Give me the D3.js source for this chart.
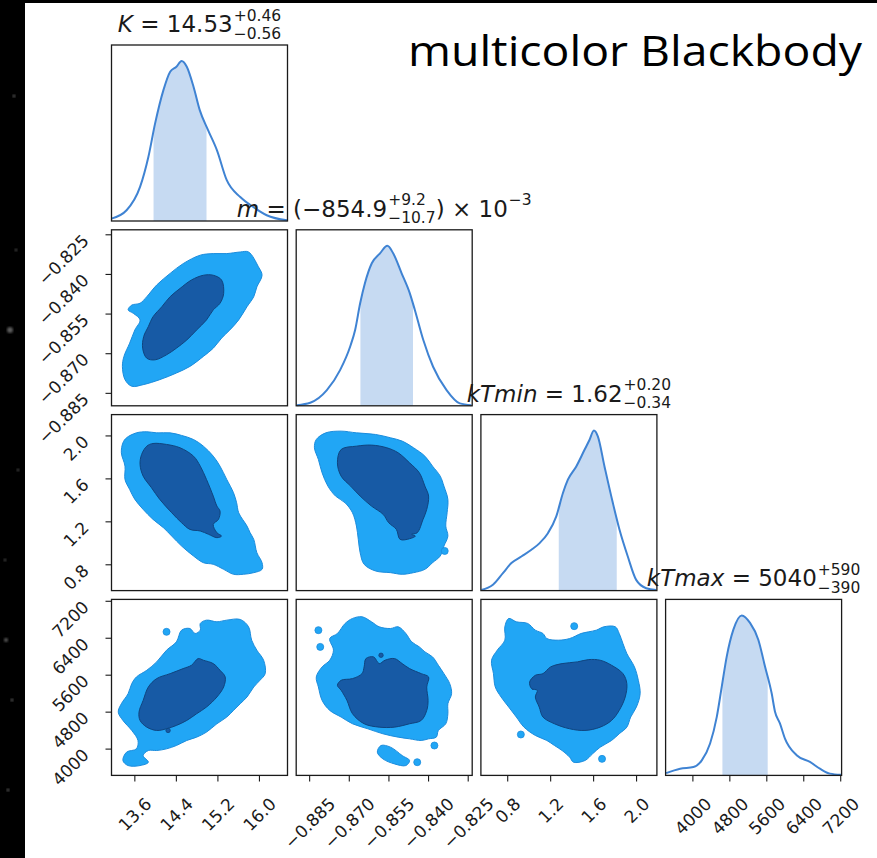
<!DOCTYPE html>
<html>
<head>
<meta charset="utf-8">
<script src="https://cdn.jsdelivr.net/npm/d3@7"></script>
<style>
  body { margin: 0; background: #fff; }
  text { font-family: "DejaVu Sans", sans-serif; white-space: pre; }
</style>
</head>
<body>
<svg id="chart" width="877" height="858"></svg>
<script>
// ---- data ----
const params = ["K", "m", "kTmin", "kTmax"];

// axis ranges
const kRange = [13.16, 16.55];
const mRange = [-0.8899, -0.8233];
const tminRange = [0.555, 2.194];
const tmaxRange = [3420, 7230];

// tick values
const kTicks = [13.6, 14.4, 15.2, 16.0];
const mTicks = [-0.885, -0.870, -0.855, -0.840, -0.825];
const tminTicks = [0.8, 1.2, 1.6, 2.0];
const tmaxTicks = [4000, 4800, 5600, 6400, 7200];

// medians and errors [minus, plus]
const kMed = 14.53, kErr = [0.56, 0.46];
const mMed = -0.8549, mErr = [0.0107, 0.0092];
const tminMed = 1.62, tminErr = [0.34, 0.20];
const tmaxMed = 5040, tmaxErr = [390, 590];

// 1D marginal densities (normalised to peak)
const kX = [13.16, 13.45, 13.71, 13.87, 14.00, 14.16, 14.29, 14.41, 14.51, 14.61, 14.74, 14.86, 15.02, 15.19, 15.38, 15.64, 15.89, 16.15, 16.54];
const kY = [0.015, 0.067, 0.213, 0.40, 0.61, 0.818, 0.933, 0.964, 1.0, 0.964, 0.839, 0.693, 0.568, 0.443, 0.255, 0.150, 0.088, 0.036, 0.004];
const mX = [-0.8896, -0.8846, -0.8783, -0.8733, -0.8695, -0.8676, -0.8657, -0.8639, -0.8613, -0.8582, -0.8554, -0.8532, -0.8500, -0.8469, -0.8450, -0.8418, -0.8381, -0.8330, -0.8280, -0.8236];
const mY = [0.004, 0.019, 0.098, 0.223, 0.369, 0.474, 0.641, 0.766, 0.891, 0.953, 1.0, 0.953, 0.828, 0.703, 0.599, 0.411, 0.244, 0.098, 0.015, 0.004];
const tminX = [0.560, 0.667, 0.760, 0.839, 0.932, 1.025, 1.102, 1.179, 1.257, 1.319, 1.365, 1.443, 1.520, 1.567, 1.607, 1.644, 1.706, 1.784, 1.846, 1.923, 2.001, 2.094, 2.187];
const tminY = [0.004, 0.036, 0.109, 0.172, 0.213, 0.255, 0.297, 0.359, 0.464, 0.610, 0.693, 0.776, 0.880, 0.943, 1.0, 0.964, 0.776, 0.547, 0.380, 0.213, 0.067, 0.015, 0.004];
const tmaxX = [3431, 3734, 4022, 4203, 4383, 4528, 4636, 4744, 4887, 5068, 5248, 5427, 5572, 5716, 5787, 5895, 6004, 6257, 6545, 6761, 6978, 7216];
const tmaxY = [0.014, 0.042, 0.052, 0.094, 0.199, 0.366, 0.555, 0.744, 0.911, 1.0, 0.953, 0.848, 0.681, 0.513, 0.400, 0.325, 0.230, 0.126, 0.084, 0.042, 0.011, 0.004];

// 2D contours: outer (light) and inner (dark) levels
const kmOuter = [[15.80,-0.8317],[15.99,-0.8373],[16.06,-0.8405],[15.96,-0.8449],[15.90,-0.8486],[15.77,-0.8524],[15.61,-0.8574],[15.44,-0.8612],[15.28,-0.8643],[15.12,-0.8681],[14.93,-0.8712],[14.67,-0.8750],[14.41,-0.8775],[14.09,-0.8800],[13.77,-0.8819],[13.55,-0.8825],[13.42,-0.8800],[13.37,-0.8750],[13.40,-0.8712],[13.51,-0.8662],[13.61,-0.8612],[13.71,-0.8574],[13.58,-0.8549],[13.48,-0.8536],[13.55,-0.8518],[13.71,-0.8511],[13.84,-0.8486],[14.03,-0.8442],[14.29,-0.8398],[14.54,-0.8361],[14.87,-0.8329],[15.12,-0.8323],[15.38,-0.8323],[15.64,-0.8317]];
const kmInner = [[15.12,-0.8405],[15.28,-0.8423],[15.32,-0.8474],[15.25,-0.8511],[15.12,-0.8536],[14.99,-0.8574],[14.80,-0.8612],[14.61,-0.8650],[14.41,-0.8681],[14.22,-0.8706],[14.00,-0.8725],[13.84,-0.8719],[13.76,-0.8681],[13.78,-0.8637],[13.87,-0.8599],[13.96,-0.8562],[14.13,-0.8524],[14.29,-0.8486],[14.48,-0.8455],[14.70,-0.8423],[14.93,-0.8405]];

const ktOuter = [[13.45,1.978],[13.64,2.024],[13.84,2.034],[14.03,2.024],[14.29,2.024],[14.51,2.000],[14.74,1.962],[14.93,1.900],[15.12,1.807],[15.25,1.714],[15.38,1.590],[15.51,1.466],[15.57,1.373],[15.61,1.280],[15.77,1.156],[15.83,1.094],[15.90,1.032],[15.96,0.908],[16.06,0.815],[16.06,0.753],[15.90,0.722],[15.70,0.707],[15.51,0.707],[15.32,0.753],[15.12,0.800],[14.93,0.815],[14.74,0.877],[14.51,0.970],[14.32,1.063],[14.16,1.141],[13.96,1.218],[13.77,1.311],[13.61,1.404],[13.51,1.497],[13.42,1.590],[13.42,1.714],[13.35,1.838],[13.38,1.931]];
const ktInner = [[13.84,1.900],[13.96,1.925],[14.22,1.916],[14.48,1.885],[14.74,1.807],[14.87,1.714],[14.99,1.590],[15.12,1.435],[15.19,1.342],[15.25,1.296],[15.22,1.218],[15.12,1.172],[15.19,1.094],[15.28,1.063],[15.19,1.048],[15.03,1.079],[14.87,1.110],[14.67,1.125],[14.51,1.187],[14.32,1.280],[14.09,1.404],[13.93,1.513],[13.77,1.621],[13.71,1.730],[13.74,1.823]];

const mtOuter = [[-0.8823,1.962],[-0.8787,2.024],[-0.8729,2.040],[-0.8671,2.024],[-0.8599,2.009],[-0.8542,1.978],[-0.8498,1.947],[-0.8455,1.885],[-0.8412,1.807],[-0.8383,1.714],[-0.8354,1.621],[-0.8340,1.528],[-0.8325,1.404],[-0.8328,1.280],[-0.8333,1.156],[-0.8325,1.063],[-0.8340,0.970],[-0.8354,0.877],[-0.8383,0.815],[-0.8412,0.753],[-0.8455,0.722],[-0.8498,0.707],[-0.8542,0.722],[-0.8599,0.738],[-0.8642,0.800],[-0.8657,0.908],[-0.8664,1.032],[-0.8671,1.156],[-0.8686,1.280],[-0.8714,1.373],[-0.8750,1.435],[-0.8779,1.528],[-0.8801,1.652],[-0.8815,1.776],[-0.8830,1.885]];
const mtInner = [[-0.8729,1.869],[-0.8671,1.900],[-0.8614,1.910],[-0.8556,1.885],[-0.8513,1.838],[-0.8470,1.745],[-0.8433,1.652],[-0.8412,1.528],[-0.8398,1.435],[-0.8405,1.311],[-0.8419,1.218],[-0.8441,1.094],[-0.8462,1.079],[-0.8448,1.063],[-0.8470,1.038],[-0.8506,1.032],[-0.8520,1.125],[-0.8549,1.187],[-0.8570,1.265],[-0.8614,1.342],[-0.8657,1.435],[-0.8693,1.528],[-0.8729,1.621],[-0.8743,1.745]];
const mtDots = [[-0.8337, 0.924]];

const kTOuter = [[14.87,6709],[14.99,6781],[15.19,6745],[15.38,6781],[15.64,6796],[15.80,6637],[15.86,6347],[15.96,6130],[16.09,5913],[16.12,5623],[16.02,5479],[15.90,5334],[15.77,5117],[15.64,4972],[15.51,4827],[15.38,4683],[15.19,4538],[14.99,4357],[14.80,4248],[14.61,4176],[14.41,4067],[14.22,3995],[14.03,3959],[13.87,3959],[13.77,3850],[13.87,3706],[13.71,3633],[13.48,3633],[13.38,3742],[13.45,3923],[13.64,3995],[13.67,4176],[13.55,4393],[13.38,4610],[13.29,4791],[13.35,4972],[13.48,5189],[13.55,5406],[13.64,5551],[13.84,5696],[14.03,5877],[14.22,6130],[14.41,6311],[14.51,6564],[14.67,6600],[14.77,6492],[14.87,6564]];
const kTInner = [[14.83,5949],[14.93,5913],[15.12,5840],[15.25,5696],[15.35,5551],[15.32,5334],[15.19,5117],[14.99,4900],[14.80,4755],[14.61,4610],[14.41,4502],[14.22,4429],[14.03,4393],[13.84,4465],[13.71,4610],[13.69,4791],[13.77,5044],[13.87,5334],[14.03,5515],[14.29,5623],[14.54,5732],[14.70,5804]];
const kTDots = [[14.22, 6528]];
const kTDarkDots = [[14.25, 4393]];

const mTOuter = [[-0.8686,6817],[-0.8650,6854],[-0.8614,6745],[-0.8585,6637],[-0.8542,6600],[-0.8513,6637],[-0.8484,6492],[-0.8462,6311],[-0.8433,6202],[-0.8412,6094],[-0.8383,5985],[-0.8361,5804],[-0.8340,5623],[-0.8318,5406],[-0.8311,5189],[-0.8325,4972],[-0.8325,4755],[-0.8333,4538],[-0.8361,4393],[-0.8369,4248],[-0.8398,4212],[-0.8426,4176],[-0.8470,4212],[-0.8513,4248],[-0.8571,4321],[-0.8628,4429],[-0.8686,4538],[-0.8729,4683],[-0.8772,4827],[-0.8801,5044],[-0.8815,5334],[-0.8823,5551],[-0.8801,5768],[-0.8772,5913],[-0.8758,6130],[-0.8772,6383],[-0.8743,6492],[-0.8714,6709]];
const mTBlob = [[-0.8578,4067],[-0.8542,4031],[-0.8498,3850],[-0.8470,3742],[-0.8484,3633],[-0.8527,3669],[-0.8571,3778],[-0.8592,3923]];
const mTInner = [[-0.8635,5949],[-0.8606,5985],[-0.8585,5840],[-0.8563,5913],[-0.8527,5949],[-0.8498,5840],[-0.8470,5732],[-0.8426,5623],[-0.8398,5551],[-0.8405,5334],[-0.8400,5044],[-0.8405,4827],[-0.8426,4610],[-0.8470,4538],[-0.8527,4465],[-0.8585,4465],[-0.8642,4538],[-0.8686,4755],[-0.8707,5044],[-0.8729,5262],[-0.8743,5370],[-0.8729,5479],[-0.8686,5515],[-0.8650,5623],[-0.8642,5768]];
const mTDots = [[-0.8441,3706],[-0.8815,6564],[-0.8808,6202],[-0.8376,4067]];
const mTDarkDots = [[-0.8578, 6021]];

const tTOuter = [[0.814,6817],[0.885,6745],[0.991,6709],[1.062,6564],[1.133,6492],[1.169,6383],[1.275,6347],[1.382,6383],[1.488,6492],[1.559,6528],[1.630,6564],[1.701,6637],[1.807,6637],[1.843,6492],[1.878,6275],[1.914,6058],[1.985,5768],[2.021,5479],[2.038,5189],[2.003,4900],[1.950,4683],[1.914,4465],[1.843,4321],[1.772,4176],[1.666,4031],[1.595,3887],[1.524,3742],[1.417,3706],[1.382,3814],[1.311,3959],[1.240,4067],[1.169,4176],[1.062,4285],[0.956,4465],[0.885,4683],[0.814,4900],[0.743,5117],[0.689,5334],[0.672,5623],[0.654,5913],[0.707,6130],[0.778,6347],[0.778,6637]];
const tTInner = [[1.062,5587],[1.133,5623],[1.204,5768],[1.311,5840],[1.453,5877],[1.559,5927],[1.666,5913],[1.772,5804],[1.878,5623],[1.914,5406],[1.899,5117],[1.843,4827],[1.772,4610],[1.666,4465],[1.524,4393],[1.382,4429],[1.240,4538],[1.133,4683],[1.098,4900],[1.062,5117],[1.080,5262],[1.027,5298],[1.009,5442]];
const tTDots = [[0.927,4306],[1.683,3778],[1.424,6651]];

// ---- layout ----
const W = 877, H = 858;
const S = 176;
const colX = [111.5, 296.2, 480.9, 665.6];
const rowY = [45, 229.8, 414.6, 599.4];
const fs = 17, cap = 12.4;

const svg = d3.select("#chart");

// dark slide background strip
svg.append("rect").attr("width", W).attr("height", H).attr("fill", "#000");
svg.append("rect").attr("x", 25).attr("y", 3).attr("width", W - 25).attr("height", H - 3).attr("fill", "#fff");
const stars = [[10, 330, 3], [14, 96, 1.5], [6, 640, 2], [12, 700, 1.5], [18, 470, 1.2], [8, 790, 1.5], [16, 250, 1.2], [5, 560, 1.2]];
svg.append("defs").append("filter").attr("id", "blur").append("feGaussianBlur").attr("stdDeviation", 1.2);
svg.selectAll("circle.star").data(stars).join("circle")
  .attr("class", "star").attr("cx", d => d[0]).attr("cy", d => d[1]).attr("r", d => d[2])
  .attr("fill", "#999").attr("opacity", 0.6).attr("filter", "url(#blur)");

const ranges = [kRange, mRange, tminRange, tmaxRange];
const tickVals = [kTicks, mTicks, tminTicks, tmaxTicks];
const fmts = [d3.format(".1f"), d3.format(".3f"), d3.format(".1f"), d3.format("d")];
const xs = ranges.map((r, i) => d3.scaleLinear().domain(r).range([colX[i], colX[i] + S]));
const ys = ranges.map((r, i) => d3.scaleLinear().domain(r).range([rowY[i] + S, rowY[i]]));

const lineColor = "#3f83d3", fillColor = "#c6daf2";
const outerFill = "#21a6f5", outerEdge = "#1b8cdd";
const innerFill = "#175aa5", innerEdge = "#0f447f";

// ---- 1D marginals ----
const marg = [
  { x: kX, y: kY, med: kMed, err: kErr },
  { x: mX, y: mY, med: mMed, err: mErr },
  { x: tminX, y: tminY, med: tminMed, err: tminErr },
  { x: tmaxX, y: tmaxY, med: tmaxMed, err: tmaxErr }
];
const defs = svg.select("defs");
marg.forEach((d, i) => {
  const x = xs[i];
  const y = d3.scaleLinear().domain([0, 1.1]).range([rowY[i] + S, rowY[i]]);
  const pts = d.x.map((v, j) => [v, d.y[j]]);
  const g = svg.append("g");
  const cid = "shade" + i;
  defs.append("clipPath").attr("id", cid).append("rect")
    .attr("x", x(d.med - d.err[0])).attr("y", rowY[i])
    .attr("width", x(d.med + d.err[1]) - x(d.med - d.err[0])).attr("height", S);
  g.append("path").datum(pts)
    .attr("d", d3.area().x(p => x(p[0])).y0(y(0)).y1(p => y(p[1])).curve(d3.curveMonotoneX))
    .attr("fill", fillColor).attr("clip-path", `url(#${cid})`);
  g.append("path").datum(pts)
    .attr("d", d3.line().x(p => x(p[0])).y(p => y(p[1])).curve(d3.curveMonotoneX))
    .attr("fill", "none").attr("stroke", lineColor).attr("stroke-width", 2);
});

// ---- 2D contours ----
const pairs = [
  { r: 1, c: 0, outer: [kmOuter], inner: [kmInner], dots: [], dark: [] },
  { r: 2, c: 0, outer: [ktOuter], inner: [ktInner], dots: [], dark: [] },
  { r: 2, c: 1, outer: [mtOuter], inner: [mtInner], dots: mtDots, dark: [] },
  { r: 3, c: 0, outer: [kTOuter], inner: [kTInner], dots: kTDots, dark: kTDarkDots },
  { r: 3, c: 1, outer: [mTOuter, mTBlob], inner: [mTInner], dots: mTDots, dark: mTDarkDots },
  { r: 3, c: 2, outer: [tTOuter], inner: [tTInner], dots: tTDots, dark: [] }
];
pairs.forEach(p => {
  const x = xs[p.c], y = ys[p.r];
  const line = d3.line().x(d => x(d[0])).y(d => y(d[1])).curve(d3.curveCatmullRomClosed.alpha(0.5));
  const g = svg.append("g");
  g.selectAll("path.outer").data(p.outer).join("path").attr("class", "outer")
    .attr("d", line).attr("fill", outerFill).attr("stroke", outerEdge).attr("stroke-width", 1);
  g.selectAll("circle.ldot").data(p.dots).join("circle").attr("class", "ldot")
    .attr("cx", d => x(d[0])).attr("cy", d => y(d[1])).attr("r", 3.5)
    .attr("fill", outerFill).attr("stroke", outerEdge).attr("stroke-width", 0.8);
  g.selectAll("path.inner").data(p.inner).join("path").attr("class", "inner")
    .attr("d", line).attr("fill", innerFill).attr("stroke", innerEdge).attr("stroke-width", 1);
  g.selectAll("circle.ddot").data(p.dark).join("circle").attr("class", "ddot")
    .attr("cx", d => x(d[0])).attr("cy", d => y(d[1])).attr("r", 2.2)
    .attr("fill", innerFill).attr("stroke", innerEdge).attr("stroke-width", 0.8);
});

// ---- panel frames ----
for (let r = 0; r < 4; r++) {
  for (let c = 0; c <= r; c++) {
    svg.append("rect").attr("x", colX[c]).attr("y", rowY[r]).attr("width", S).attr("height", S)
      .attr("fill", "none").attr("stroke", "#1a1a1a").attr("stroke-width", 1.3);
  }
}

// ---- axes ----
function styleAxis(g) {
  g.select(".domain").remove();
  g.attr("font-family", null).attr("font-size", null);
  g.selectAll(".tick line").attr("stroke", "#1a1a1a").attr("stroke-width", 1.1);
  g.selectAll(".tick text").attr("fill", "#1a1a1a").attr("font-size", fs).attr("dy", null);
}
// bottom row x axes
for (let c = 0; c < 4; c++) {
  const g = svg.append("g").attr("transform", `translate(0,${rowY[3] + S})`)
    .call(d3.axisBottom(xs[c]).tickValues(tickVals[c]).tickFormat(fmts[c]).tickSize(6));
  styleAxis(g);
  g.selectAll(".tick text").each(function () {
    const t = d3.select(this);
    const L = this.getComputedTextLength();
    const ax = 0.354 * (L + cap), ay = 21 + 0.707 * cap;
    t.attr("text-anchor", "end").attr("x", ax).attr("y", ay)
      .attr("transform", `rotate(-45,${ax},${ay})`);
  });
}
// left column y axes
for (let r = 1; r < 4; r++) {
  const g = svg.append("g").attr("transform", `translate(${colX[0]},0)`)
    .call(d3.axisLeft(ys[r]).tickValues(tickVals[r]).tickFormat(fmts[r]).tickSize(6));
  styleAxis(g);
  g.selectAll(".tick text").each(function () {
    const ax = -21.5, ay = 7;
    d3.select(this).attr("text-anchor", "end").attr("x", ax).attr("y", ay)
      .attr("transform", `rotate(-45,${ax},${ay})`);
  });
}

// ---- titles (mathtext style) ----
function mathTitle(cx, base, parts) {
  const g = svg.append("g");
  let x = 0;
  parts.forEach(p => {
    if (p.t !== undefined) {
      const t = g.append("text").attr("x", x).attr("y", 0).attr("font-size", 23)
        .attr("font-style", p.it ? "italic" : "normal").attr("fill", "#1a1a1a").text(p.t);
      x += t.node().getComputedTextLength();
    } else {
      let w = 0;
      if (p.sup) {
        const t = g.append("text").attr("x", x + 1).attr("y", -11.5).attr("font-size", 15.5).attr("fill", "#1a1a1a").text(p.sup);
        w = Math.max(w, t.node().getComputedTextLength());
      }
      if (p.sub) {
        const t = g.append("text").attr("x", x + 1).attr("y", 6.5).attr("font-size", 15.5).attr("fill", "#1a1a1a").text(p.sub);
        w = Math.max(w, t.node().getComputedTextLength());
      }
      x += w + 1;
    }
  });
  g.attr("transform", `translate(${cx - x / 2},${base})`);
}
const f2 = d3.format(".2f"), f1 = d3.format(".1f"), f0 = d3.format("d");
const cxOf = i => colX[i] + S / 2;
mathTitle(cxOf(0), rowY[0] - 13, [{ t: params[0], it: 1 }, { t: " = " + f2(kMed) }, { sup: "+" + f2(kErr[1]), sub: "−" + f2(kErr[0]) }]);
mathTitle(cxOf(1), rowY[1] - 13, [{ t: params[1], it: 1 }, { t: " = (" + f1(mMed * 1000) }, { sup: "+" + f1(mErr[1] * 1000), sub: "−" + f1(mErr[0] * 1000) }, { t: ") × 10" }, { sup: "−3" }]);
mathTitle(cxOf(2), rowY[2] - 13, [{ t: params[2], it: 1 }, { t: " = " + f2(tminMed) }, { sup: "+" + f2(tminErr[1]), sub: "−" + f2(tminErr[0]) }]);
mathTitle(cxOf(3), rowY[3] - 13, [{ t: params[3], it: 1 }, { t: " = " + f0(tmaxMed) }, { sup: "+" + f0(tmaxErr[1]), sub: "−" + f0(tmaxErr[0]) }]);

// ---- slide title ----
svg.append("text").attr("x", 862).attr("y", 66).attr("text-anchor", "end")
  .style("font-family", "'Open Sans', 'Noto Sans', sans-serif").attr("font-size", 42)
  .attr("textLength", 454).attr("lengthAdjust", "spacingAndGlyphs")
  .attr("fill", "#000").text("multicolor Blackbody");
</script>
</body>
</html>
